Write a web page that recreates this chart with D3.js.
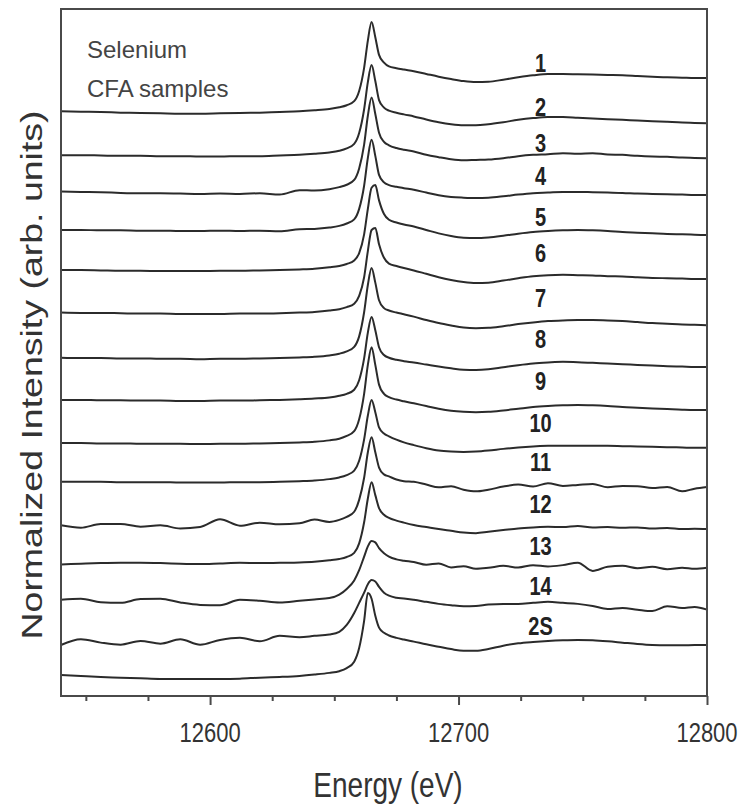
<!DOCTYPE html>
<html lang="en">
<head>
  <meta charset="UTF-8">
  <script src="https://cdn.jsdelivr.net/npm/d3@7/dist/d3.min.js"></script>
  <title>Selenium CFA samples</title>
  <style>
    body { margin: 0; background: #fff; }
    .trace { fill: none; stroke: #2b2b2b; stroke-width: 2; stroke-linejoin: round; }
    .frame { fill: none; stroke: #4a4a4a; stroke-width: 2; }
    text { font-family: "Liberation Sans", Arial, sans-serif; fill: #333; }
  </style>
</head>
<body>
  <script>
    // energy grid shared by every spectrum (eV)
    const energy = [12540, 12548, 12556, 12564, 12572, 12580, 12588, 12596, 12604, 12612, 12620, 12628, 12636, 12642, 12648, 12652,
      12655, 12658, 12660, 12662, 12663.5, 12665, 12666.5, 12668, 12670, 12672, 12675, 12678,
      12682, 12687, 12692, 12697, 12702, 12707, 12712, 12718, 12724, 12730, 12736, 12742, 12748, 12754, 12760, 12766, 12772, 12778, 12784, 12790, 12795, 12800];

    // normalized intensity, one array per sample
    const s1 = [0.02, 0.01, 0.00, -0.02, -0.03, -0.04, -0.05, -0.05, -0.04, -0.03, -0.02, 0.00, 0.02, 0.05, 0.09, 0.14,
      0.20, 0.32, 0.62, 1.30, 2.10, 2.65, 2.20, 1.68, 1.45, 1.34, 1.29, 1.25,
      1.20, 1.12, 1.04, 0.97, 0.91, 0.88, 0.89, 0.95, 1.02, 1.08, 1.12, 1.12, 1.11, 1.10, 1.09, 1.08, 1.06, 1.04, 1.02, 1.01, 1.00, 1.00];
    const s2 = [0.00, 0.00, -0.01, -0.02, -0.02, -0.03, -0.03, -0.04, -0.04, -0.03, -0.03, -0.01, 0.01, 0.04, 0.08, 0.13,
      0.20, 0.33, 0.65, 1.35, 2.15, 2.65, 2.18, 1.62, 1.40, 1.31, 1.25, 1.20,
      1.14, 1.05, 0.97, 0.91, 0.88, 0.88, 0.91, 0.97, 1.04, 1.09, 1.12, 1.12, 1.10, 1.08, 1.06, 1.04, 1.02, 1.00, 0.98, 0.96, 0.95, 0.94];
    const s3 = [0.02, 0.01, 0.00, -0.02, -0.03, -0.03, -0.04, -0.05, -0.04, -0.05, -0.03, -0.07, 0.06, 0.05, 0.09, 0.15,
      0.22, 0.36, 0.70, 1.40, 2.25, 2.79, 2.30, 1.75, 1.48, 1.38, 1.30, 1.25,
      1.20, 1.10, 1.03, 0.97, 0.94, 0.95, 0.96, 1.00, 1.06, 1.10, 1.12, 1.15, 1.13, 1.15, 1.11, 1.10, 1.07, 1.05, 1.04, 1.02, 1.01, 1.00];
    const s4 = [0.00, 0.00, -0.01, -0.01, -0.02, -0.02, -0.03, -0.03, -0.02, -0.03, -0.02, -0.04, 0.02, 0.03, 0.07, 0.12,
      0.19, 0.31, 0.62, 1.30, 2.12, 2.65, 2.18, 1.62, 1.40, 1.32, 1.27, 1.23,
      1.18, 1.10, 1.02, 0.97, 0.95, 0.94, 0.95, 0.99, 1.04, 1.08, 1.10, 1.12, 1.12, 1.11, 1.10, 1.09, 1.07, 1.06, 1.05, 1.04, 1.03, 1.03];
    const s5 = [0.00, 0.00, -0.01, -0.02, -0.02, -0.03, -0.03, -0.03, -0.02, -0.02, -0.01, 0.00, 0.02, 0.04, 0.08, 0.12,
      0.18, 0.28, 0.50, 1.05, 1.80, 2.42, 2.50, 2.05, 1.65, 1.48, 1.40, 1.34,
      1.28, 1.18, 1.08, 1.00, 0.95, 0.94, 0.96, 1.01, 1.07, 1.12, 1.15, 1.17, 1.18, 1.17, 1.15, 1.12, 1.10, 1.08, 1.06, 1.05, 1.04, 1.03];
    const s6 = [0.01, 0.00, 0.00, -0.01, -0.02, -0.02, -0.03, -0.03, -0.03, -0.02, -0.02, -0.01, 0.01, 0.03, 0.07, 0.11,
      0.17, 0.27, 0.50, 1.05, 1.82, 2.44, 2.50, 2.02, 1.62, 1.45, 1.38, 1.32,
      1.25, 1.15, 1.05, 0.97, 0.91, 0.88, 0.89, 0.95, 1.02, 1.08, 1.11, 1.12, 1.11, 1.10, 1.08, 1.07, 1.05, 1.03, 1.02, 1.01, 1.00, 1.00];
    const s7 = [0.01, 0.00, 0.00, -0.01, -0.01, -0.02, -0.02, -0.03, -0.02, -0.02, -0.01, 0.00, 0.02, 0.04, 0.08, 0.13,
      0.20, 0.33, 0.64, 1.35, 2.15, 2.65, 2.22, 1.70, 1.47, 1.40, 1.34, 1.29,
      1.22, 1.12, 1.03, 0.96, 0.90, 0.88, 0.89, 0.94, 1.00, 1.05, 1.09, 1.11, 1.12, 1.12, 1.11, 1.09, 1.06, 1.03, 1.01, 0.99, 0.98, 0.97];
    const s8 = [0.00, 0.00, -0.01, -0.01, -0.02, -0.02, -0.03, -0.03, -0.02, -0.02, -0.01, 0.00, 0.02, 0.04, 0.07, 0.12,
      0.18, 0.30, 0.58, 1.22, 1.98, 2.44, 2.05, 1.55, 1.32, 1.24, 1.18, 1.14,
      1.10, 1.04, 0.98, 0.93, 0.89, 0.88, 0.90, 0.96, 1.02, 1.07, 1.10, 1.12, 1.11, 1.09, 1.07, 1.05, 1.03, 1.01, 0.99, 0.98, 0.97, 0.97];
    const s9 = [0.00, 0.00, -0.01, -0.01, -0.02, -0.02, -0.02, -0.03, -0.02, -0.02, -0.01, 0.00, 0.02, 0.04, 0.08, 0.13,
      0.21, 0.35, 0.70, 1.45, 2.30, 2.82, 2.30, 1.72, 1.45, 1.35, 1.28, 1.23,
      1.17, 1.09, 1.01, 0.95, 0.92, 0.91, 0.92, 0.96, 1.01, 1.06, 1.09, 1.11, 1.12, 1.11, 1.09, 1.06, 1.04, 1.02, 1.00, 0.98, 0.97, 0.97];
    const s10 = [0.00, 0.00, 0.00, -0.01, -0.01, -0.01, -0.02, -0.02, -0.02, -0.01, -0.01, 0.00, 0.02, 0.04, 0.08, 0.13,
      0.20, 0.33, 0.62, 1.25, 1.95, 2.41, 2.05, 1.60, 1.42, 1.34, 1.24, 1.16,
      1.08, 0.99, 0.92, 0.89, 0.88, 0.89, 0.92, 0.97, 1.01, 1.04, 1.06, 1.06, 1.06, 1.06, 1.06, 1.05, 1.04, 1.03, 1.02, 1.01, 1.00, 1.00];
    const s11 = [0.00, -0.07, 0.04, 0.04, -0.04, 0.00, -0.09, -0.05, 0.18, -0.01, 0.08, 0.03, 0.06, 0.17, 0.10, 0.16,
      0.25, 0.40, 0.75, 1.40, 2.15, 2.59, 2.15, 1.70, 1.50, 1.44, 1.35, 1.30,
      1.28, 1.20, 1.12, 1.15, 1.05, 1.00, 1.05, 1.14, 1.20, 1.14, 1.24, 1.16, 1.19, 1.22, 1.12, 1.16, 1.15, 1.10, 1.13, 1.00, 1.08, 1.13];
    const s12 = [-0.04, -0.02, 0.00, 0.01, 0.01, 0.00, -0.02, -0.03, -0.01, 0.01, 0.00, 0.01, 0.02, 0.04, 0.08, 0.12,
      0.18, 0.30, 0.58, 1.20, 1.90, 2.38, 2.00, 1.62, 1.42, 1.33, 1.25, 1.19,
      1.12, 1.06, 1.00, 0.95, 0.90, 0.88, 0.92, 0.97, 1.02, 1.05, 1.07, 1.06, 1.09, 1.05, 1.06, 1.04, 1.05, 1.02, 1.03, 1.00, 1.01, 1.00];
    const s13 = [0.03, 0.06, -0.04, -0.06, 0.05, 0.06, -0.05, -0.12, -0.13, 0.03, 0.00, -0.05, 0.00, 0.04, 0.08, 0.18,
      0.35, 0.60, 0.90, 1.30, 1.60, 1.76, 1.72, 1.55, 1.40, 1.30, 1.22, 1.18,
      1.14, 1.06, 1.10, 0.98, 1.02, 0.94, 0.97, 1.03, 0.98, 1.05, 1.01, 1.05, 1.12, 0.88, 1.00, 1.03, 0.96, 1.00, 0.93, 0.97, 0.94, 0.97];
    const s14 = [-0.09, 0.08, -0.02, -0.08, 0.03, -0.05, 0.08, -0.08, 0.06, 0.12, 0.02, 0.18, 0.14, 0.18, 0.22, 0.30,
      0.50, 0.85, 1.15, 1.45, 1.70, 1.82, 1.78, 1.62, 1.45, 1.36, 1.30, 1.28,
      1.24, 1.18, 1.12, 1.08, 1.05, 1.06, 1.10, 1.12, 1.12, 1.15, 1.18, 1.15, 1.12, 1.06, 0.97, 1.00, 0.95, 0.91, 1.05, 1.00, 1.03, 0.95];
    const s2S = [0.06, 0.03, 0.00, -0.02, -0.04, -0.06, -0.06, -0.06, -0.06, -0.05, -0.02, 0.00, 0.03, 0.07, 0.12, 0.17,
      0.26, 0.45, 0.85, 1.65, 2.47, 2.30, 1.80, 1.45, 1.30, 1.22, 1.15, 1.10,
      1.04, 0.96, 0.89, 0.82, 0.77, 0.77, 0.82, 0.92, 0.99, 1.03, 1.06, 1.08, 1.09, 1.08, 1.05, 1.01, 0.97, 0.94, 0.93, 0.93, 0.94, 0.94];

    const sampleNames = ["1", "2", "3", "4", "5", "6", "7", "8", "9", "10", "11", "12", "13", "14", "2S"];
    const spectra = [s1, s2, s3, s4, s5, s6, s7, s8, s9, s10, s11, s12, s13, s14, s2S];
    // vertical stacking offset of each spectrum
    const offsets = [16.62, 15.35, 14.26, 13.15, 11.97, 10.71, 9.38, 8.15, 6.88, 5.74, 4.46, 3.35, 2.24, 1.03, 0];
    // where the sample labels sit
    const labelEnergy = 12733;
    const labelY = [17.79, 16.50, 15.44, 14.47, 13.26, 12.21, 10.88, 9.68, 8.44, 7.21, 6.06, 4.82, 3.59, 2.41, 1.24];

    const minorTicks = [12550, 12575, 12625, 12650, 12675, 12725, 12750, 12775];
    const majorTicks = [12600, 12700, 12800];

    const W = 740, H = 804;
    const mLeft = 61, mRight = 707, mTop = 9, mBottom = 696;

    const x = d3.scaleLinear().domain([12540, 12800]).range([mLeft, mRight]);
    const y = d3.scaleLinear().domain([-0.56, 19.65]).range([mBottom, mTop]);

    const svg = d3.select('body').append('svg')
      .attr('width', W)
      .attr('height', H);

    // helper: text slightly stretched vertically like the original figure
    function label(x0, y0, s, size, opts = {}) {
      return svg.append('text')
        .attr('transform', `translate(${x0},${y0}) ${opts.rotate ? 'rotate(-90) scale(' + (opts.sx || 1) + ',1)' : 'scale(1,' + (opts.sy || 1) + ')'}`)
        .attr('text-anchor', opts.anchor || 'start')
        .style('font-size', size + 'px')
        .style('font-weight', opts.weight || 'normal')
        .text(s);
    }

    const line = d3.line()
      .x(d => x(d[0]))
      .y(d => y(d[1]))
      .curve(d3.curveMonotoneX);

    svg.selectAll('path.trace')
      .data(spectra)
      .enter().append('path')
      .attr('class', 'trace')
      .attr('d', (s, i) => line(s.map((v, k) => [energy[k], v + offsets[i]])));

    // axes: minor and major ticks, drawn outward below the frame
    const axMinor = d3.axisBottom(x).tickValues(minorTicks).tickSize(5).tickFormat('');
    const axMajor = d3.axisBottom(x).tickValues(majorTicks).tickSize(9).tickFormat('');
    [axMinor, axMajor].forEach(ax => {
      const g = svg.append('g').attr('transform', `translate(0,${mBottom})`).call(ax);
      g.select('.domain').remove();
      g.selectAll('line').attr('stroke', '#4a4a4a').attr('stroke-width', 2);
    });

    majorTicks.forEach(t => label(x(t), 742, d3.format('d')(t), 22, { anchor: 'middle', sy: 1.25 }));

    svg.append('rect').attr('class', 'frame')
      .attr('x', mLeft).attr('y', mTop)
      .attr('width', mRight - mLeft).attr('height', mBottom - mTop);

    // sample labels
    sampleNames.forEach((n, i) => {
      label(x(labelEnergy), y(labelY[i]), n, 20, { anchor: 'middle', weight: 'bold', sy: 1.25 })
        .style('fill', '#222');
    });

    label(87, 58, 'Selenium', 24).style('fill', '#444');
    label(87, 97, 'CFA samples', 24).style('fill', '#444');

    label(388, 797, 'Energy (eV)', 28, { anchor: 'middle', sy: 1.25 });
    label(42, 375, 'Normalized Intensity (arb. units)', 30, { anchor: 'middle', rotate: true, sx: 1.25 });
  </script>
</body>
</html>
